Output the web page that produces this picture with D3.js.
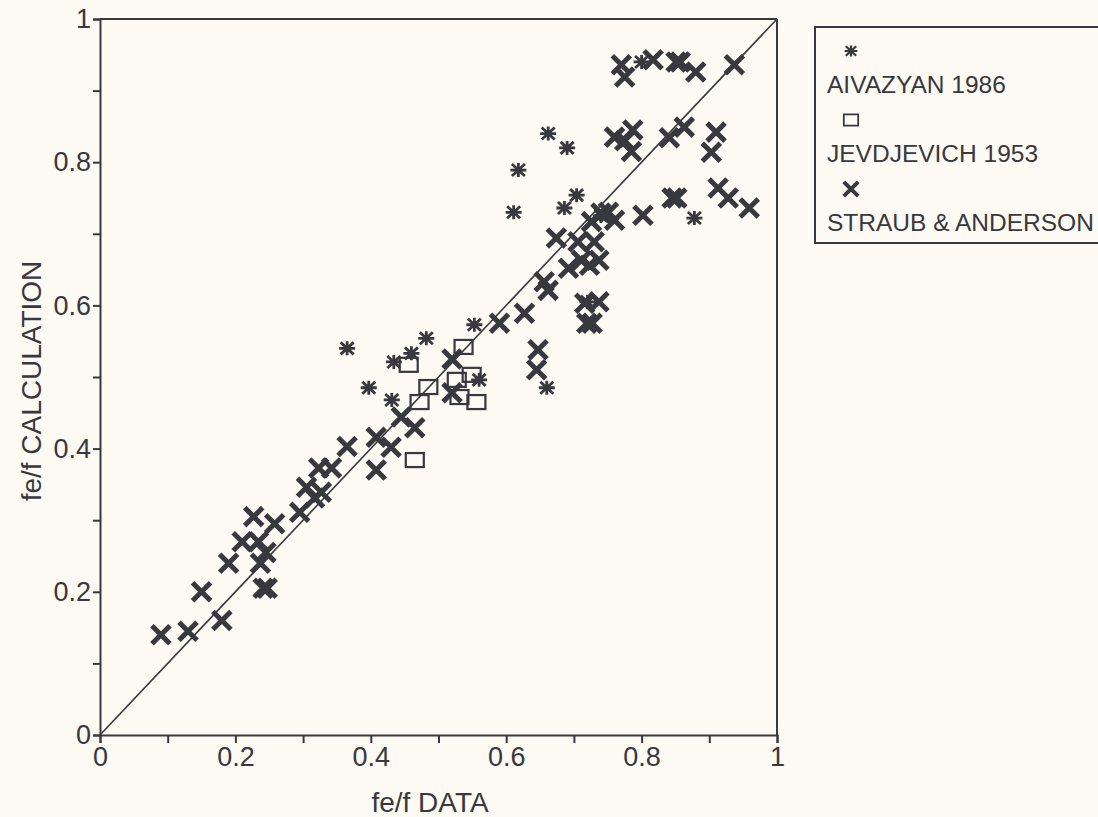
<!DOCTYPE html>
<html>
<head>
<meta charset="utf-8">
<script src="https://cdn.jsdelivr.net/npm/d3@7"></script>
<style>
body{margin:0;background:#fcfaf3;}
svg{display:block;font-family:"Liberation Sans",Arial,sans-serif;}
</style>
</head>
<body>
<svg id="chart" width="1098" height="817"></svg>
<script>
// values
var aivazyan = [
	[0.365,0.54],[0.397,0.485],[0.431,0.468],[0.434,0.521],[0.46,0.533],[0.482,0.554],
	[0.553,0.573],[0.56,0.496],[0.66,0.485],[0.611,0.73],[0.686,0.736],[0.704,0.754],
	[0.618,0.789],[0.662,0.84],[0.69,0.82],[0.80,0.94],[0.878,0.722],[0.72,0.605],[0.74,0.725]
];
var jevdjevich = [
	[0.537,0.542],[0.456,0.517],[0.485,0.486],[0.472,0.465],[0.527,0.496],
	[0.549,0.503],[0.531,0.472],[0.556,0.465],[0.465,0.384]
];
var straub = [
	[0.09,0.14],[0.13,0.145],[0.18,0.16],[0.15,0.20],[0.241,0.205],[0.247,0.205],[0.19,0.24],
	[0.21,0.27],[0.227,0.305],[0.258,0.295],[0.234,0.27],[0.245,0.255],[0.237,0.24],
	[0.295,0.311],[0.305,0.346],[0.317,0.331],[0.327,0.339],[0.323,0.373],[0.342,0.373],
	[0.365,0.403],[0.408,0.416],[0.43,0.402],[0.408,0.37],[0.445,0.444],[0.465,0.429],
	[0.52,0.525],[0.52,0.478],[0.59,0.575],[0.627,0.589],[0.647,0.538],[0.645,0.51],
	[0.656,0.633],[0.662,0.621],[0.674,0.694],[0.692,0.652],[0.706,0.689],[0.711,0.663],
	[0.723,0.656],[0.73,0.689],[0.737,0.663],[0.726,0.717],[0.74,0.729],[0.76,0.719],
	[0.751,0.73],[0.716,0.603],[0.737,0.605],[0.719,0.575],[0.727,0.575],[0.802,0.726],
	[0.863,0.849],[0.841,0.834],[0.91,0.842],[0.903,0.814],[0.845,0.75],[0.852,0.75],
	[0.913,0.764],[0.928,0.75],[0.959,0.736],[0.76,0.835],[0.775,0.83],[0.787,0.845],
	[0.785,0.815],[0.77,0.936],[0.775,0.919],[0.817,0.943],[0.851,0.94],[0.857,0.94],
	[0.88,0.926],[0.937,0.936]
];
var tickValues = [0,0.1,0.2,0.3,0.4,0.5,0.6,0.7,0.8,0.9,1];
var tickLabels = ["0","","0.2","","0.4","","0.6","","0.8","","1"];
var legendNames = ["AIVAZYAN 1986","JEVDJEVICH 1953","STRAUB & ANDERSON"];

var ink = "#38383f";
var svg = d3.select("#chart");
var plotLeft = 100, plotRight = 777, plotTop = 19, plotBottom = 735;

var x = d3.scaleLinear().domain([0,1]).range([plotLeft,plotRight]);
var y = d3.scaleLinear().domain([0,1]).range([plotBottom,plotTop]);

var fmt = function(d){ return tickLabels[tickValues.indexOf(d)]; };

var xAxis = svg.append("g")
	.attr("transform","translate(0,"+plotBottom+")")
	.call(d3.axisBottom(x).tickValues(tickValues).tickFormat(fmt).tickSize(8).tickPadding(4));
var yAxis = svg.append("g")
	.attr("transform","translate("+plotLeft+",0)")
	.call(d3.axisLeft(y).tickValues(tickValues).tickFormat(fmt).tickSize(7).tickPadding(2));

[xAxis,yAxis].forEach(function(g){
	g.attr("font-size",null).attr("font-family",null);
	g.select(".domain").attr("stroke",ink).attr("stroke-width",2);
	g.selectAll(".tick line").attr("stroke",ink).attr("stroke-width",2);
	g.selectAll(".tick text").attr("fill",ink).style("font-size","27px");
});

// frame top and right
svg.append("line").attr("x1",x(0)).attr("x2",x(1)).attr("y1",y(1)).attr("y2",y(1))
	.attr("stroke",ink).attr("stroke-width",2);
svg.append("line").attr("x1",x(1)).attr("x2",x(1)).attr("y1",y(1)).attr("y2",y(0))
	.attr("stroke",ink).attr("stroke-width",2);

// 1:1 line
svg.append("line").attr("x1",x(0)).attr("y1",y(0)).attr("x2",x(1)).attr("y2",y(1))
	.attr("stroke",ink).attr("stroke-width",1.6);

// markers
function drawX(g){
	g.append("path").attr("d","M-9,-9L9,9M-9,9L9,-9")
		.attr("stroke",ink).attr("stroke-width",5).attr("fill","none");
}
function drawStar(g){
	g.append("path").attr("d","M-8,0L8,0M0,-7L0,7M-6.5,-6L6.5,6M-6.5,6L6.5,-6")
		.attr("stroke",ink).attr("stroke-width",2.8).attr("fill","none");
}
function drawSquare(g){
	g.append("rect").attr("x",-9).attr("y",-7).attr("width",18).attr("height",14)
		.attr("stroke",ink).attr("stroke-width",2.2).attr("fill","none");
}

function series(data,draw){
	svg.append("g").selectAll("g").data(data).enter().append("g")
		.attr("transform",function(d){return "translate("+x(d[0])+","+y(d[1])+")";})
		.each(function(){ draw(d3.select(this)); });
}
series(straub,drawX);
series(aivazyan,drawStar);
series(jevdjevich,drawSquare);

// axis titles
svg.append("text").attr("x",430).attr("y",812).attr("text-anchor","middle")
	.attr("fill",ink).style("font-size","28px").text("fe/f  DATA");
svg.append("text").attr("transform","translate(41,381) rotate(-90)").attr("text-anchor","middle")
	.attr("fill",ink).style("font-size","28px").text("fe/f  CALCULATION");

// legend
var legend = svg.append("g");
legend.append("rect").attr("x",815).attr("y",27).attr("width",300).attr("height",216)
	.attr("fill","none").attr("stroke",ink).attr("stroke-width",2);
var symbols = [drawStar,drawSquare,drawX];
legendNames.forEach(function(name,i){
	var g = legend.append("g").attr("transform","translate(851,"+(51+i*69)+") scale(0.8)");
	symbols[i](g);
	legend.append("text").attr("x",827).attr("y",93+i*69).attr("fill",ink)
		.style("font-size","24.5px").text(name);
});
</script>
</body>
</html>
